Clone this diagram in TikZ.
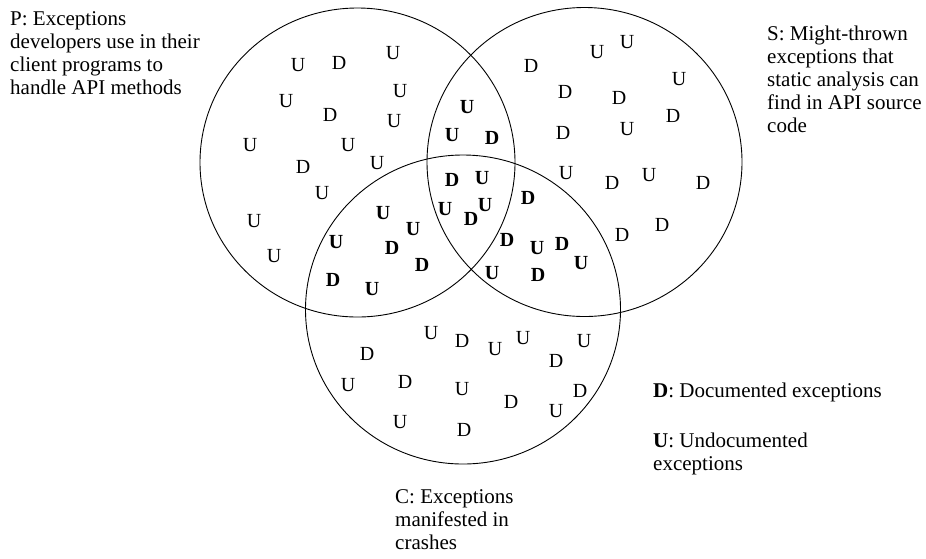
\documentclass[tikz,border=0pt]{standalone}
\usepackage{fontspec}
\setmainfont{Liberation Serif}
\newcommand{\setshape}[1]{\draw[trait] (#1) ellipse [x radius=157.5pt, y radius=154.5pt]}
\tikzset{
  trait/.style={line width=0.9pt},
  exc/.style={inner sep=0pt},
  sure/.style={inner sep=0pt, font=\fontsize{20}{22}\selectfont\bfseries},
  lab/.style={inner sep=0pt, anchor=north west, align=left, font=\fontsize{21}{23}\selectfont}
}

\begin{document}
\begin{tikzpicture}[x=1pt, y=-1pt, font=\fontsize{20}{22}\selectfont]
\useasboundingbox (0,0) rectangle (926,558);
%The three sets
	\setshape{357.5,162.5};
	\setshape{584.5,162};
	\setshape{463,309.5};
%Documented, one set only
	\foreach \x/\y [count=\i] in {339/63, 330/115, 303/167, 531/66, 565/92,
		619/98, 673/116, 563/133, 612/183, 703/183, 622/235, 662/225,
		367/354, 462/341, 556/361, 405/382, 580/391, 511/402, 464/430}
		\node[exc] (d\i) at (\x,\y) {D};
%Undocumented, one set only
	\foreach \x/\y [count=\i] in {298/65, 393/53, 400/91, 286/101, 394/121,
		250/145, 348/145, 377/163, 322/193, 254/221, 274/256, 597/52, 627/42,
		679/79, 627/129, 566/173, 649/175, 431/333, 495/349, 523/338,
		584/341, 348/385, 462/389, 556/411, 400/422}
		\node[exc] (u\i) at (\x,\y) {U};
%Documented, overlaps
	\foreach \x/\y [count=\i] in {492/138, 452/180, 528/198, 471/219, 507/240,
		562/244, 538/275, 392/248, 422/265, 333/280}
		\node[sure] (bd\i) at (\x,\y) {D};
%Undocumented, overlaps
	\foreach \x/\y [count=\i] in {467/107, 452/135, 482/178, 445/209, 485/205,
		383/213, 413/229, 336/242, 372/289, 537/248, 581/263, 492/273}
		\node[sure] (bu\i) at (\x,\y) {U};
%Labels
	\node[lab] (plabel) at (10,11) {P: Exceptions\\developers use in their\\client programs to\\handle API methods};
	\node[lab] (slabel) at (767,26) {S: Might-thrown\\exceptions that\\static analysis can\\find in API source\\code};
	\node[lab] (clabel) at (395,489) {C: Exceptions\\manifested in\\crashes};
%Legend
	\node[lab] (dlegend) at (653,383) {\textbf{D}: Documented exceptions};
	\node[lab] (ulegend) at (653,433) {\textbf{U}: Undocumented\\exceptions};
\end{tikzpicture}
\end{document}
